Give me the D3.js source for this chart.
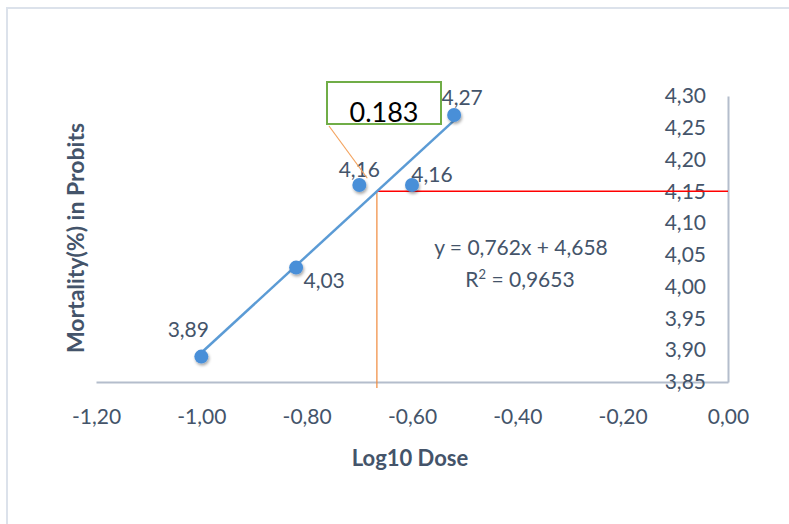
<!DOCTYPE html>
<html>
<head>
<meta charset="utf-8">
<script src="https://cdn.jsdelivr.net/npm/d3@7"></script>
<style>
  html, body { margin: 0; padding: 0; background: #fff; }
  svg { display: block; }
  text { font-family: Lato, "Open Sans", sans-serif; }
</style>
</head>
<body>
<svg id="chart" width="789" height="524"></svg>
<script>
// Probit regression: mortality (probits) against log10 dose
const logDose = [-1.00, -0.82, -0.70, -0.60, -0.52];
const probit = [3.89, 4.03, 4.16, 4.16, 4.27];
const slope = 0.762;
const intercept = 4.658;
const rSquared = 0.9653;
const targetProbit = 4.15;
const calloutText = "0.183";
const xTicks = [-1.2, -1.0, -0.8, -0.6, -0.4, -0.2, 0.0];
const yTicks = [3.85, 3.90, 3.95, 4.00, 4.05, 4.10, 4.15, 4.20, 4.25, 4.30];
// label placement around each point (dx, dy)
const labelOffsets = [[-13, -20], [28, 20], [0, -8], [20, -3], [8, -10]];

const fmt = d => d3.format(".2f")(d).replace(".", ",").replace("−", "-");
const textColor = "#44546a";
const axisColor = "#b4bdcc";
const labelSize = "21px";

const svg = d3.select("#chart");

// chart frame
svg.append("path")
  .attr("d", "M7,524 V8 H789")
  .attr("fill", "none").attr("stroke", "#dce2eb").attr("stroke-width", 2);

const x = d3.scaleLinear().domain([-1.2, 0]).range([96, 728]);
const y = d3.scaleLinear().domain([3.85, 4.30]).range([382, 96]);

// x axis (bottom)
const xAxis = svg.append("g").attr("transform", `translate(0,${y(3.85)})`)
  .call(d3.axisBottom(x).tickValues(xTicks).tickFormat(fmt).tickSize(0).tickPadding(27));
xAxis.select(".domain").attr("stroke", axisColor).attr("stroke-width", 2);
xAxis.selectAll("text").attr("fill", textColor).style("font-size", labelSize);

// y axis on the right edge, labels inside
const yAxis = svg.append("g").attr("transform", `translate(${x(0)},0)`)
  .call(d3.axisLeft(y).tickValues(yTicks).tickFormat(fmt).tickSize(0).tickPadding(22));
yAxis.select(".domain").attr("stroke", axisColor).attr("stroke-width", 2);
yAxis.selectAll("text").attr("fill", textColor).style("font-size", labelSize);

// axis titles
svg.append("text").attr("x", 410).attr("y", 466).attr("text-anchor", "middle")
  .attr("fill", textColor).style("font-size", "22px").style("font-weight", "bold")
  .text("Log10 Dose");
svg.append("text").attr("transform", "translate(84,238) rotate(-90)").attr("text-anchor", "middle")
  .attr("fill", textColor).style("font-size", "23px").style("font-weight", "bold")
  .text("Mortality(%) in Probits");

// intersection of the fitted line with the target probit
const xHit = (targetProbit - intercept) / slope;

// target level: horizontal red line to the axis, orange drop line to the dose axis
svg.append("line")
  .attr("x1", x(xHit)).attr("x2", x(0)).attr("y1", y(targetProbit)).attr("y2", y(targetProbit))
  .attr("stroke", "#ff0000").attr("stroke-width", 1.5);
svg.append("line")
  .attr("x1", x(xHit)).attr("x2", x(xHit)).attr("y1", y(targetProbit)).attr("y2", y(3.85) + 6)
  .attr("stroke", "#f08a3c").attr("stroke-width", 1.2);

// fitted regression line across the dose range
const xExt = d3.extent(logDose);
const line = d3.line().x(d => x(d)).y(d => y(slope * d + intercept));
svg.append("path").datum(xExt).attr("d", line)
  .attr("fill", "none").attr("stroke", "#5b9bd5").attr("stroke-width", 2.5);

// points with soft shadow
const defs = svg.append("defs");
const f = defs.append("filter").attr("id", "shadow").attr("x", "-50%").attr("y", "-50%").attr("width", "200%").attr("height", "200%");
f.append("feDropShadow").attr("dx", 1).attr("dy", 2).attr("stdDeviation", 1.5).attr("flood-color", "#000").attr("flood-opacity", 0.35);

const pts = logDose.map((d, i) => ({ x: d, y: probit[i], off: labelOffsets[i] }));
svg.append("g").selectAll("circle").data(pts).join("circle")
  .attr("cx", d => x(d.x)).attr("cy", d => y(d.y)).attr("r", 7)
  .attr("fill", "#4a8fd8").attr("filter", "url(#shadow)");

svg.append("g").selectAll("text").data(pts).join("text")
  .attr("x", d => x(d.x) + d.off[0]).attr("y", d => y(d.y) + d.off[1])
  .attr("text-anchor", "middle").attr("fill", textColor).style("font-size", labelSize)
  .text(d => fmt(d.y));

// regression equation
svg.append("text").attr("x", 521).attr("y", 255).attr("text-anchor", "middle")
  .attr("fill", textColor).style("font-size", labelSize)
  .text(`y = ${String(slope).replace(".", ",")}x + ${String(intercept).replace(".", ",")}`);
const r2 = svg.append("text").attr("x", 520).attr("y", 287).attr("text-anchor", "middle")
  .attr("fill", textColor).style("font-size", labelSize);
r2.append("tspan").text("R");
r2.append("tspan").attr("baseline-shift", "super").style("font-size", "13px").text("2");
r2.append("tspan").text(` = ${String(rSquared).replace(".", ",")}`);

// callout box with leader to the intersection
const box = { x: 327, y: 82, w: 114, h: 42 };
const hx = x(xHit), hy = y(targetProbit);
const lx = box.x + 2, ly = box.y + box.h + 2;
svg.append("line")
  .attr("x1", lx).attr("y1", ly)
  .attr("x2", lx + (hx - lx) * 0.8).attr("y2", ly + (hy - ly) * 0.8)
  .attr("stroke", "#f4a460").attr("stroke-width", 1.2);
svg.append("rect").attr("x", box.x).attr("y", box.y).attr("width", box.w).attr("height", box.h)
  .attr("fill", "none").attr("stroke", "#70ad47").attr("stroke-width", 2);
svg.append("text").attr("x", box.x + box.w / 2).attr("y", box.y + box.h - 2).attr("text-anchor", "middle")
  .attr("fill", "#000").style("font-size", "27px")
  .text(calloutText);
</script>
</body>
</html>
